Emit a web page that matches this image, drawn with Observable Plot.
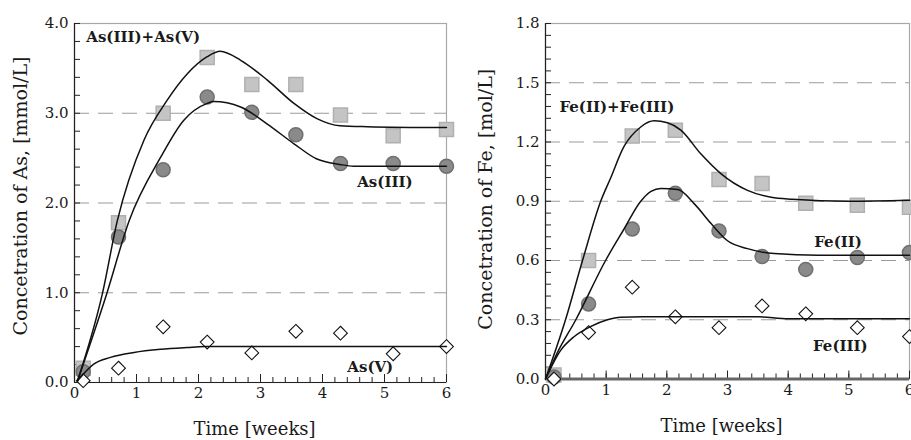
<!DOCTYPE html>
<html>
<head>
<meta charset="utf-8">
<script src="https://cdn.jsdelivr.net/npm/d3@7"></script>
<script src="https://cdn.jsdelivr.net/npm/@observablehq/plot@0.6"></script>
<style>
  html, body { margin: 0; padding: 0; background: #fff; }
  #wrap { display: flex; width: 911px; height: 440px; overflow: hidden; }
  #wrap svg { display: block; }
</style>
</head>
<body>
<div id="wrap"></div>
<script>
// ---- measured data (weeks) ----
const weeks = [0.14, 0.71, 1.43, 2.14, 2.86, 3.57, 4.29, 5.14, 6.0];

// Arsenic, mmol/L
const asTotal = [0.16, 1.78, 3.00, 3.62, 3.32, 3.32, 2.98, 2.75, 2.82];
const as3     = [0.12, 1.62, 2.37, 3.18, 3.01, 2.76, 2.44, 2.44, 2.41];
const as5     = [0.02, 0.16, 0.62, 0.45, 0.33, 0.57, 0.55, 0.32, 0.40];

// Iron, mol/L
const feTotal = [0.02, 0.60, 1.23, 1.26, 1.01, 0.99, 0.89, 0.88, 0.87];
const fe2     = [0.01, 0.38, 0.76, 0.94, 0.75, 0.62, 0.555, 0.615, 0.64];
const fe3     = [0.00, 0.235, 0.465, 0.315, 0.26, 0.37, 0.33, 0.26, 0.215];

// ---- model curves ----
const asTotalFitT = [0.05, 0.45, 0.69, 1.12, 1.49, 1.82, 2.14, 2.35, 2.68, 3.11, 3.54, 3.91, 4.28, 4.72, 6];
const asTotalFitC = [0.02, 0.99, 1.80, 2.70, 3.14, 3.44, 3.63, 3.69, 3.59, 3.37, 3.11, 2.94, 2.86, 2.85, 2.84];
const as3FitT = [0.05, 0.52, 0.88, 1.39, 1.76, 2.14, 2.24, 2.68, 3.11, 3.54, 3.91, 4.28, 4.5, 6];
const as3FitC = [0.02, 0.99, 1.80, 2.51, 2.92, 3.11, 3.13, 3.07, 2.88, 2.66, 2.49, 2.43, 2.41, 2.41];
const as5FitT = [0.05, 0.31, 0.58, 0.96, 1.39, 1.82, 2.1, 6];
const as5FitC = [0.02, 0.205, 0.28, 0.335, 0.37, 0.39, 0.40, 0.40];

const feTotalFitT = [0, 0.33, 0.61, 0.91, 1.07, 1.29, 1.57, 1.79, 2.01, 2.23, 2.56, 2.89, 3.33, 3.72, 4.07, 5.0, 6];
const feTotalFitC = [0, 0.30, 0.60, 0.90, 1.015, 1.175, 1.276, 1.307, 1.297, 1.26, 1.14, 1.04, 0.955, 0.92, 0.91, 0.90, 0.905];
const fe2FitT = [0, 0.19, 0.50, 0.99, 1.29, 1.57, 1.74, 1.90, 2.18, 2.45, 2.73, 3.0, 3.33, 3.77, 4.5, 6];
const fe2FitC = [0, 0.13, 0.30, 0.60, 0.757, 0.90, 0.95, 0.964, 0.959, 0.888, 0.787, 0.70, 0.66, 0.635, 0.627, 0.627];
const fe3FitT = [0, 0.25, 0.47, 0.74, 1.02, 1.24, 1.6, 3.5, 4.0, 6];
const fe3FitC = [0, 0.145, 0.214, 0.265, 0.30, 0.313, 0.315, 0.315, 0.305, 0.305];

// ---- ticks & text ----
const weekTicks = [0, 1, 2, 3, 4, 5, 6];
const asTicks = [0, 1, 2, 3, 4];
const asGrid = [1, 2, 3];
const feTicks = [0, 0.3, 0.6, 0.9, 1.2, 1.5, 1.8];
const feGrid = [0.3, 0.6, 0.9, 1.2, 1.5];
const weekMinor = d3.range(0, 6.001, 0.2);
const asMinor = d3.range(0, 4.001, 0.2);
const feMinor = d3.range(0, 1.8001, 0.06);

const asLabelText = ["As(III)+As(V)", "As(III)", "As(V)"];
const asLabelT = [0.19, 4.56, 4.40];
const asLabelC = [3.85, 2.23, 0.17];
const feLabelText = ["Fe(II)+Fe(III)", "Fe(II)", "Fe(III)"];
const feLabelT = [0.23, 4.43, 4.41];
const feLabelC = [1.376, 0.695, 0.165];

const xTitle = "Time [weeks]";
const asTitle = "Concetration of As, [mmol/L]";
const feTitle = "Concetration of Fe, [mol/L]";

// ---- build tables ----
const asRows = weeks.map((t, i) => ({t, total: asTotal[i], iii: as3[i], v: as5[i]}));
const feRows = weeks.map((t, i) => ({t, total: feTotal[i], ii: fe2[i], iii: fe3[i]}));
const curve = (T, C) => T.map((t, i) => ({t, c: C[i]}));
const labels = (txt, T, C) => txt.map((s, i) => ({s, t: T[i], c: C[i]}));

const FONT = "'DejaVu Serif', serif";

function panel({width, marginLeft, marginRight, marginTop, marginBottom, yDomain, ticks, grid, minor,
                rows, keys, fits, labs, yTitle, yTitleDx, yTitleDy, bottomAxis, fmt}) {
  const height = 440;
  const plotW = width - marginLeft - marginRight;
  const plotH = height - marginTop - marginBottom;
  return Plot.plot({
    width, height, marginLeft, marginRight, marginTop, marginBottom,
    style: {fontFamily: FONT, fontSize: "15px", color: "#1a1a1a", background: "white"},
    x: {domain: [0, 6], label: null},
    y: {domain: yDomain, label: null},
    marks: [
      Plot.ruleY(grid, {stroke: "#9a9a9a", strokeDasharray: "15,9", strokeWidth: 1}),
      Plot.frame({stroke: "#a8a8a8", strokeWidth: 1.2}),
      // inward ticks
      Plot.ruleY(minor, {stroke: "#222", insetRight: plotW - 6}),
      Plot.ruleX(weekMinor, {stroke: "#222", insetTop: plotH - 5}),
      Plot.ruleX(weekTicks, {stroke: "#222", insetTop: plotH - 8}),
      Plot.ruleX([0], {stroke: "#222", strokeWidth: 1.2}),
      bottomAxis,
      // data markers
      Plot.dot(rows, {x: "t", y: keys[0], symbol: "square", r: 7.9, fill: "#c4c4c4", stroke: "#b0b0b0"}),
      Plot.dot(rows, {x: "t", y: keys[1], symbol: "circle", r: 7, fill: "#8a8a8a", stroke: "#707070"}),
      Plot.dot(rows, {x: "t", y: keys[2], symbol: "diamond2", r: 6.2, fill: "white", stroke: "#111", strokeWidth: 1.1}),
      // model lines
      ...fits.map(f => Plot.line(f, {x: "t", y: "c", curve: "monotone-x", stroke: "#111", strokeWidth: 1.5})),
      // labels
      Plot.text(labs, {x: "t", y: "c", text: "s", textAnchor: "start", fontWeight: "bold", fontSize: 15, fill: "#1a1a1a"}),
      // axes
      Plot.axisY(ticks, {tickSize: 0, tickPadding: 6, tickFormat: fmt, fontSize: 15}),
      Plot.axisX(weekTicks, {tickSize: 0, tickPadding: 5, fontSize: 15}),
      Plot.text([xTitle], {frameAnchor: "bottom", textAnchor: "middle", lineAnchor: "middle", dy: 47, dx: -6, fontSize: 18, text: d => d}),
      Plot.text([yTitle], {frameAnchor: "left", textAnchor: "middle", lineAnchor: "middle", rotate: -90, dx: yTitleDx, dy: yTitleDy, fontSize: 19, text: d => d})
    ]
  });
}

const left = panel({
  width: 455, marginLeft: 74, marginRight: 9, marginTop: 23, marginBottom: 58,
  yDomain: [0, 4], ticks: asTicks, grid: asGrid, minor: asMinor,
  rows: asRows, keys: ["total", "iii", "v"],
  fits: [curve(asTotalFitT, asTotalFitC), curve(as3FitT, as3FitC), curve(as5FitT, as5FitC)],
  labs: labels(asLabelText, asLabelT, asLabelC),
  yTitle: asTitle, yTitleDx: -54, yTitleDy: -7,
  bottomAxis: Plot.ruleY([0], {stroke: "#222", strokeWidth: 1.2}),
  fmt: d => d.toFixed(1)
});

const right = panel({
  width: 456, marginLeft: 90, marginRight: 2, marginTop: 23, marginBottom: 61.5,
  yDomain: [0, 1.8], ticks: feTicks, grid: feGrid, minor: feMinor,
  rows: feRows, keys: ["total", "ii", "iii"],
  fits: [curve(feTotalFitT, feTotalFitC), curve(fe2FitT, fe2FitC), curve(fe3FitT, fe3FitC)],
  labs: labels(feLabelText, feLabelT, feLabelC),
  yTitle: feTitle, yTitleDx: -60, yTitleDy: -2,
  bottomAxis: Plot.ruleY([0], {stroke: "#666", strokeWidth: 3}),
  fmt: d => d.toFixed(1)
});

const wrap = document.getElementById("wrap");
wrap.appendChild(left);
wrap.appendChild(right);
</script>
</body>
</html>
